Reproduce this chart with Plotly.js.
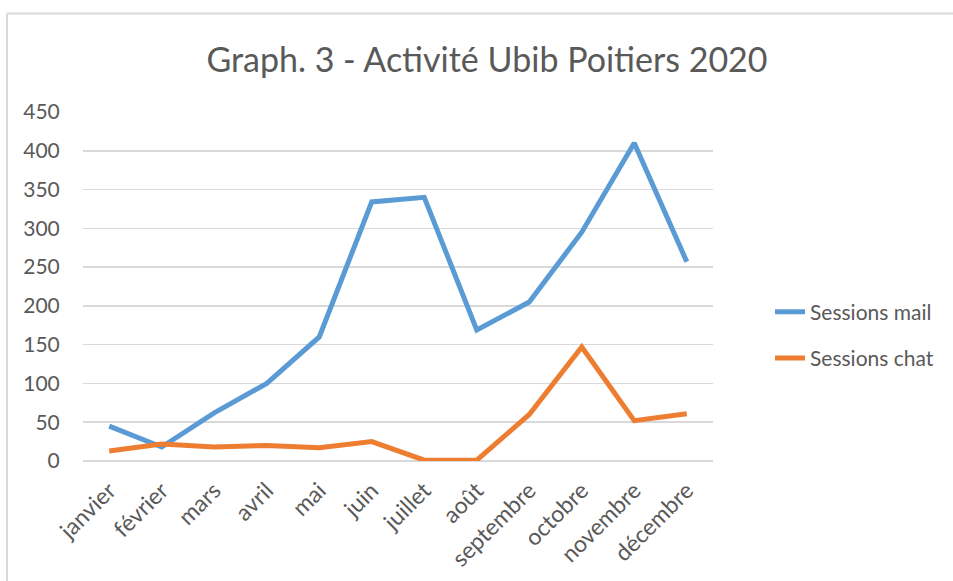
<!DOCTYPE html>
<html>
<head>
<meta charset="utf-8">
<script src="https://cdn.plot.ly/plotly-3.0.1.min.js"></script>
<style>html,body{margin:0;padding:0;background:#fff;}#chart{width:953px;height:581px;}</style>
</head>
<body>
<div id="chart"></div>
<script>
const months = ["janvier","février","mars","avril","mai","juin","juillet","août","septembre","octobre","novembre","décembre"];
const sessionsMail = [45, 18, 62, 100, 160, 334, 340, 169, 205, 295, 410, 257];
const sessionsChat = [13, 22, 18, 20, 17, 25, 1, 1, 60, 147, 52, 61];
const yTicks = [0, 50, 100, 150, 200, 250, 300, 350, 400, 450];
const seriesNames = ["Sessions mail", "Sessions chat"];

const FONT = "Lato, 'Open Sans', sans-serif";
const GREY = "#595959";

const traces = [
  {x: months, y: sessionsMail, name: seriesNames[0], legendgroup: "g1", type: "scatter", mode: "lines",
   line: {color: "#5B9BD5", width: 5}},
  {x: months, y: sessionsChat, name: seriesNames[1], legendgroup: "g2", type: "scatter", mode: "lines",
   line: {color: "#ED7D31", width: 5}}
];

const L = 83, R = 240, T = 112, B = 120;
const pw = 953 - L - R, ph = 581 - T - B;
const bx = (7 - L) / pw, by = (ph - (13.5 - T)) / ph;

const layout = {
  width: 953, height: 581,
  margin: {l: L, r: R, t: T, b: B, pad: 0},
  paper_bgcolor: "#fff", plot_bgcolor: "#fff",
  font: {family: FONT, color: GREY, size: 20},
  title: {text: "Graph. 3 - Activité Ubib Poitiers 2020", font: {family: FONT, size: 34, color: GREY},
          xref: "container", x: 0.511, xanchor: "center", yref: "container", y: 1 - 60/581, yanchor: "middle"},
  xaxis: {type: "category", range: [-0.5, 11.5], showgrid: false, zeroline: false, showline: false,
          tickangle: -45, ticks: "outside", ticklen: 6, tickcolor: "rgba(0,0,0,0)",
          tickfont: {family: FONT, size: 23, color: GREY}, fixedrange: true},
  yaxis: {range: [0, 450], tickvals: yTicks, ticktext: yTicks.map(String), showgrid: true, gridcolor: "#d9d9d9",
          gridwidth: 1.5, zeroline: true, zerolinecolor: "#d9d9d9", zerolinewidth: 1.5, showline: false,
          ticks: "outside", ticklen: 18, tickcolor: "rgba(0,0,0,0)",
          tickfont: {family: FONT, size: 21, color: GREY}, fixedrange: true},
  showlegend: true,
  legend: {x: (770 - L) / pw, xanchor: "left", y: (461 - 335) / ph, yanchor: "middle",
           font: {family: FONT, size: 21, color: GREY}, tracegroupgap: 16, itemwidth: 30,
           bgcolor: "rgba(0,0,0,0)"},
  shapes: [
    {type: "line", xref: "paper", yref: "paper", x0: bx, x1: 1.5, y0: by, y1: by, line: {color: "#d9d9d9", width: 2}},
    {type: "line", xref: "paper", yref: "paper", x0: bx, x1: bx, y0: by, y1: -1, line: {color: "#d9d9d9", width: 2}}
  ]
};

Plotly.newPlot("chart", traces, layout, {displayModeBar: false, staticPlot: true});
</script>
</body>
</html>
